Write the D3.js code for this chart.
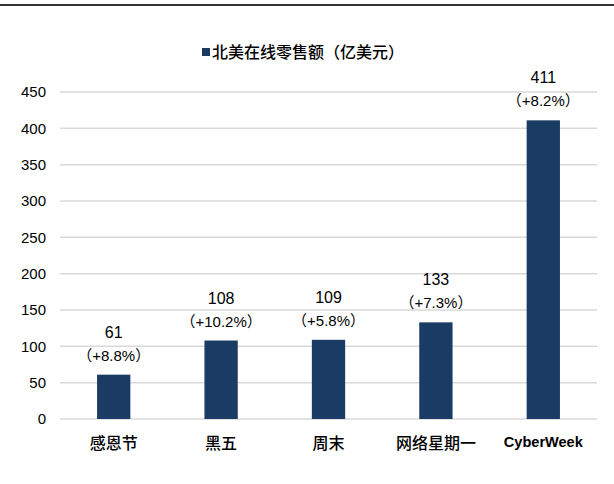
<!DOCTYPE html>
<html lang="zh">
<head>
    <meta charset="UTF-8">
    <title>北美在线零售额</title>
    <script src="https://d3js.org/d3.v7.min.js"></script>
    <style>
        body{
            margin: 0;
            background: #fff;
        }
        svg text{
            font-family: "Noto Sans CJK SC", "DejaVu Sans", sans-serif;
            fill: #000;
        }
        svg text.latin{
            font-family: "Liberation Sans", "Noto Sans CJK SC", Arial, sans-serif;
        }
        .grid line{
            stroke: #d9d9d9;
            stroke-width: 1.5px;
        }
    </style>
</head>
<body>
<svg id="canvas" width="614" height="484"></svg>
<script>

    let categories = ["感恩节", "黑五", "周末", "网络星期一", "CyberWeek"];
    let sales = [61, 108, 109, 133, 411];
    let growth = ["（+8.8%）", "（+10.2%）", "（+5.8%）", "（+7.3%）", "（+8.2%）"];
    let yTicks = [0, 50, 100, 150, 200, 250, 300, 350, 400, 450];
    let seriesName = "北美在线零售额（亿美元）";

    let svg = d3.select('svg');

    // top rule
    svg.append('line')
        .attr('x1', 0).attr('x2', 614)
        .attr('y1', 5).attr('y2', 5)
        .attr('stroke', '#333').attr('stroke-width', 2);

    let x = d3.scaleBand()
        .domain(categories)
        .range([60, 597])
        .paddingInner(0.69)
        .paddingOuter(0.345);

    let y = d3.scaleLinear()
        .domain([0, 450])
        .range([419, 92]);

    // gridlines
    svg.append('g')
        .attr('class', 'grid')
        .selectAll('line')
        .data(yTicks)
        .enter()
        .append('line')
        .attr('x1', 60).attr('x2', 597)
        .attr('y1', d => y(d)).attr('y2', d => y(d));

    // y tick labels
    svg.append('g')
        .selectAll('text')
        .data(yTicks)
        .enter()
        .append('text')
        .attr('class', 'latin')
        .attr('x', 46)
        .attr('y', d => y(d))
        .attr('dy', '0.35em')
        .attr('text-anchor', 'end')
        .style('font-size', '15px')
        .text(d => d);

    // bars
    svg.append('g')
        .selectAll('rect')
        .data(sales)
        .enter()
        .append('rect')
        .attr('x', (d, i) => x(categories[i]))
        .attr('width', x.bandwidth())
        .attr('y', d => y(d))
        .attr('height', d => y(0) - y(d))
        .attr('fill', '#1a3b63');

    // value labels
    let labels = svg.append('g')
        .selectAll('g')
        .data(sales)
        .enter()
        .append('g')
        .attr('transform', (d, i) => `translate(${x(categories[i]) + x.bandwidth() / 2},${y(d)})`);

    labels.append('text')
        .attr('class', 'latin')
        .attr('y', -37)
        .attr('text-anchor', 'middle')
        .style('font-size', '16px')
        .text(d => d);

    labels.append('text')
        .attr('class', 'latin')
        .attr('y', -14)
        .attr('text-anchor', 'middle')
        .style('font-size', '15px')
        .text((d, i) => growth[i]);

    // x labels
    svg.append('g')
        .selectAll('text')
        .data(categories)
        .enter()
        .append('text')
        .attr('class', d => d === "CyberWeek" ? 'latin' : null)
        .attr('x', d => x(d) + x.bandwidth() / 2)
        .attr('y', 449)
        .attr('text-anchor', 'middle')
        .style('font-size', '16px')
        .style('font-weight', '500')
        .each(function (d) {
            if (d === "CyberWeek") {
                d3.select(this).attr('y', 447)
                    .style('font-weight', 'bold')
                    .style('font-size', '15px')
                    .attr('textLength', 79)
                    .attr('lengthAdjust', 'spacingAndGlyphs');
            }
        })
        .text(d => d);

    // legend
    let legend = svg.append('g');
    legend.append('rect')
        .attr('x', 202).attr('y', 48)
        .attr('width', 8).attr('height', 8)
        .attr('fill', '#1a3b63');
    legend.append('text')
        .attr('x', 212)
        .attr('y', 58)
        .style('font-size', '16px')
        .style('font-weight', '500')
        .text(seriesName);

</script>
</body>
</html>
